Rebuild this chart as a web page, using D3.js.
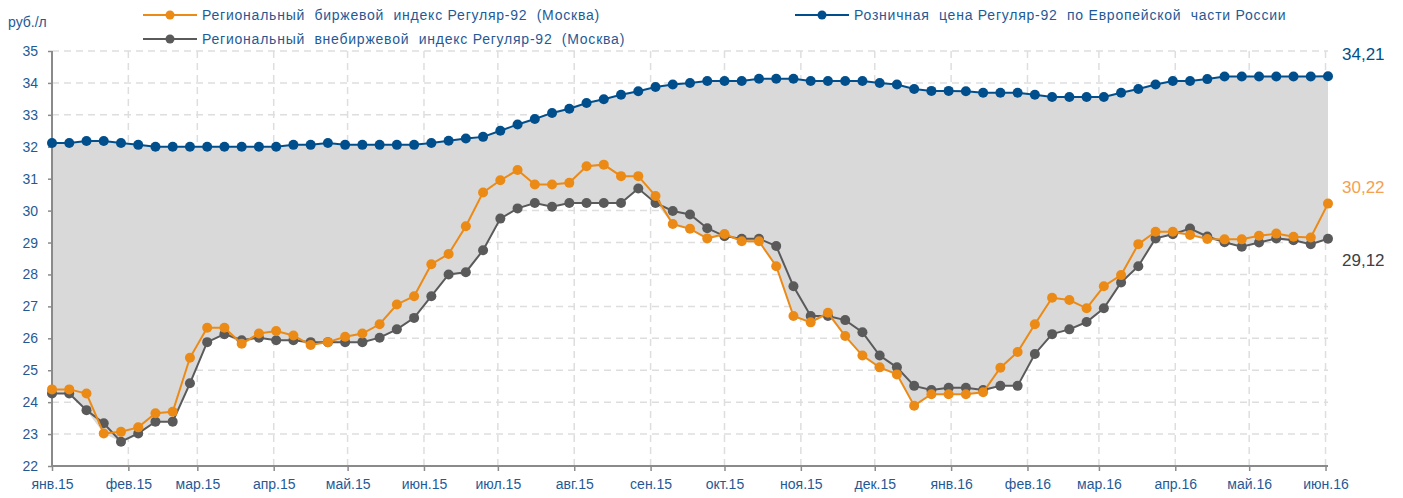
<!DOCTYPE html>
<html><head><meta charset="utf-8">
<script src="https://cdn.jsdelivr.net/npm/d3@7"></script>
<style>
html,body{margin:0;padding:0;background:#fff;}
svg{display:block;font-family:"Liberation Sans",Arial,sans-serif;}
</style></head>
<body>
<svg id="chart" width="1403" height="498"></svg>
<script>
// ---- data ----
const startDate = "2015-01-01";
const weekCount = 75;
const monthNames = ["янв","фев","мар","апр","май","июн","июл","авг","сен","окт","ноя","дек"];
const yTicks = [22,23,24,25,26,27,28,29,30,31,32,33,34,35];

const retail = [32.12,32.12,32.18,32.18,32.12,32.06,32.0,32.0,32.0,32.0,32.0,32.0,32.0,32.0,32.06,32.06,32.12,32.06,32.06,32.06,
  32.06,32.06,32.12,32.19,32.26,32.31,32.5,32.7,32.87,33.06,33.19,33.37,33.49,33.63,33.74,33.87,33.95,34.0,34.06,34.06,
  34.06,34.13,34.13,34.13,34.06,34.06,34.06,34.06,34.0,33.95,33.81,33.75,33.75,33.74,33.69,33.69,33.69,33.63,33.56,33.56,
  33.56,33.56,33.69,33.81,33.95,34.06,34.06,34.12,34.2,34.2,34.2,34.2,34.2,34.2,34.21];
const exchange = [24.40,24.40,24.27,23.02,23.07,23.21,23.65,23.70,25.39,26.33,26.33,25.83,26.15,26.23,26.09,25.79,25.88,26.05,26.15,26.44,
  27.06,27.32,28.32,28.64,29.51,30.57,30.95,31.27,30.82,30.82,30.87,31.39,31.44,31.08,31.08,30.46,29.58,29.43,29.13,29.27,
  29.04,29.04,28.26,26.70,26.50,26.80,26.07,25.46,25.09,24.87,23.89,24.25,24.25,24.25,24.31,25.08,25.57,26.44,27.27,27.20,
  26.94,27.63,27.98,28.95,29.34,29.34,29.24,29.11,29.10,29.10,29.21,29.28,29.18,29.16,30.22];
const otc = [24.27,24.27,23.75,23.34,22.76,23.02,23.39,23.39,24.59,25.88,26.13,25.94,26.02,25.94,25.94,25.88,25.88,25.88,25.88,26.02,
  26.28,26.64,27.32,28.0,28.07,28.76,29.75,30.07,30.24,30.12,30.24,30.24,30.24,30.24,30.69,30.24,29.99,29.88,29.45,29.20,
  29.12,29.12,28.89,27.63,26.70,26.70,26.57,26.19,25.46,25.09,24.51,24.38,24.45,24.45,24.38,24.51,24.51,25.51,26.13,26.28,
  26.51,26.94,27.75,28.26,29.13,29.26,29.44,29.19,29.01,28.87,29.0,29.13,29.07,28.95,29.12];
const legendLabels = ["Региональный  биржевой  индекс Регуляр-92  (Москва)",
                      "Региональный  внебиржевой  индекс Регуляр-92  (Москва)",
                      "Розничная  цена Регуляр-92  по Европейской  части России"];
const endLabels = ["34,21","30,22","29,12"];
const unitLabel = "руб./л";

// ---- layout / style ----
const cBlue = "#004f8c", cOrange = "#ec8a16", cGray = "#5a5a5a";
const cText = "#1f5a96";
const svg = d3.select("#chart");
const parse = d3.timeParse("%Y-%m-%d");
const t0 = parse(startDate);
const dates = d3.range(weekCount).map(i => d3.timeDay.offset(t0, 7 * i));
const x = d3.scaleTime().domain([t0, dates[dates.length - 1]]).range([52, 1328]);
const y = d3.scaleLinear().domain([22, 35]).range([466, 51]);
const months = d3.timeMonth.range(t0, d3.timeDay.offset(dates[dates.length - 1], 1));

const rows = dates.map((d, i) => ({d, b: retail[i], o: exchange[i], g: otc[i]}));

// grid
const grid = svg.append("g").attr("stroke", "#dedede").attr("stroke-width", 1.5).attr("stroke-dasharray", "7,5");
grid.selectAll(".h").data(yTicks.filter(v => v > 22)).join("line")
  .attr("x1", 52).attr("x2", 1328).attr("y1", d => y(d)).attr("y2", d => y(d));
grid.selectAll(".v").data(months.slice(1)).join("line")
  .attr("x1", d => x(d)).attr("x2", d => x(d)).attr("y1", y(35)).attr("y2", y(22));

// fill
svg.append("path").datum(rows)
  .attr("fill", "#d9d9d9")
  .attr("d", d3.area().x(r => x(r.d)).y0(r => y(Math.min(r.o, r.g))).y1(r => y(r.b)));

// axes
const yAxis = svg.append("g").attr("transform", "translate(52,0)")
  .call(d3.axisLeft(y).tickValues(yTicks).tickSize(4).tickPadding(10).tickFormat(d3.format("d")));
yAxis.select(".domain").attr("stroke", "#8a8a8a").attr("stroke-width", 2).attr("d", `M0,${y(35)}V${y(22)}`);
yAxis.selectAll(".tick line").attr("stroke", "#8a8a8a").attr("stroke-width", 1.5);
yAxis.selectAll(".tick text").attr("fill", cText).attr("font-size", 14).attr("font-family", "Liberation Sans, Arial, sans-serif");

const xAxis = svg.append("g").attr("transform", `translate(0,${y(22)})`)
  .call(d3.axisBottom(x).tickValues(months).tickSize(5).tickPadding(8)
    .tickFormat(d => monthNames[d.getMonth()] + "." + d3.timeFormat("%y")(d)));
xAxis.select(".domain").attr("stroke", "#8a8a8a").attr("stroke-width", 2).attr("d", `M52,0H1328`);
xAxis.selectAll(".tick line").attr("stroke", "#8a8a8a").attr("stroke-width", 1.5);
xAxis.selectAll(".tick text").attr("fill", cText).attr("font-size", 14).attr("font-family", "Liberation Sans, Arial, sans-serif");

// series
function drawSeries(key, color) {
  svg.append("path").datum(rows).attr("fill", "none").attr("stroke", color).attr("stroke-width", 2)
    .attr("d", d3.line().x(r => x(r.d)).y(r => y(r[key])));
  svg.append("g").selectAll("circle").data(rows).join("circle")
    .attr("cx", r => x(r.d)).attr("cy", r => y(r[key])).attr("r", 5).attr("fill", color);
}
drawSeries("g", cGray);
drawSeries("o", cOrange);
drawSeries("b", cBlue);

// unit label
svg.append("text").attr("x", 8).attr("y", 27).attr("fill", cText).attr("font-size", 14).text(unitLabel);

// legend
const legendItems = [
  {x: 143, y: 15, color: cOrange, label: legendLabels[0]},
  {x: 143, y: 39, color: cGray, label: legendLabels[1]},
  {x: 795, y: 15, color: cBlue, label: legendLabels[2]}
];
const lg = svg.append("g").selectAll("g").data(legendItems).join("g")
  .attr("transform", d => `translate(${d.x},${d.y})`);
lg.append("line").attr("x1", 0).attr("x2", 54).attr("stroke", d => d.color).attr("stroke-width", 2);
lg.append("circle").attr("cx", 27).attr("r", 4.5).attr("fill", d => d.color);
lg.append("text").attr("x", 59).attr("dy", "0.35em").attr("fill", cText).attr("font-size", 14)
  .attr("letter-spacing", "0.77px")
  .style("white-space", "pre").text(d => d.label);

// end labels
const endItems = [
  {t: endLabels[0], yy: 54, c: cBlue},
  {t: endLabels[1], yy: 187, c: "#f5a04f"},
  {t: endLabels[2], yy: 260, c: "#404040"}
];
svg.append("g").selectAll("text").data(endItems).join("text")
  .attr("x", 1342).attr("y", d => d.yy).attr("dy", "0.35em").attr("fill", d => d.c)
  .attr("font-size", 17).text(d => d.t);
</script>
</body></html>
